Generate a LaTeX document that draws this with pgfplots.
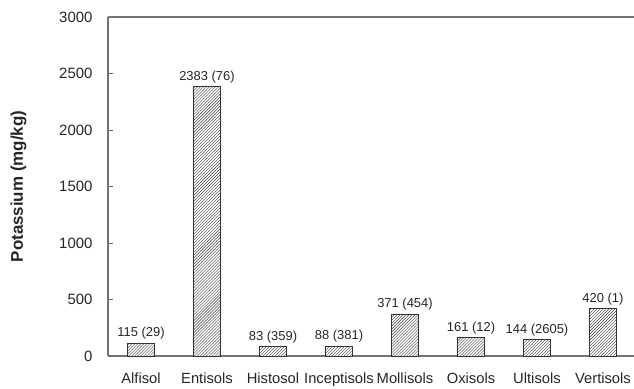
\documentclass[border=0pt]{standalone}
\usepackage{fontspec}
\setmainfont{Liberation Sans}
\usepackage{pgfplots}
\usepackage{pgfplotstable}
\pgfplotsset{compat=1.18}
\usetikzlibrary{patterns}
\pgfplotstableread[col sep=comma]{
x,y,lab
0,115,115 (29)
1,2383,2383 (76)
2,83,83 (359)
3,88,88 (381)
4,371,371 (454)
5,161,161 (12)
6,144,144 (2605)
7,420,420 (1)
}\data
\begin{document}
\begin{tikzpicture}
\useasboundingbox (-108bp,-33bp) rectangle (526bp,356bp);
\begin{axis}[
  at={(0,0)}, anchor=south west,
  scale only axis, width=526bp, height=339bp,
  xmin=-0.5, xmax=7.47, ymin=0, ymax=3000,
  axis x line*=box, axis y line*=left,
  axis line style={black!55, line width=1.1pt},
  xtick={0,...,7},
  xticklabels={Alfisol,Entisols,Histosol,Inceptisols,Mollisols,Oxisols,Ultisols,Vertisols},
  major x tick style={draw=none},
  ytick={0,500,...,3000},
  tick align=inside, major tick length=5bp,
  y tick style={black!60, line width=0.6pt},
  /pgf/number format/assume math mode=true,
  /pgf/number format/1000 sep={},
  tick label style={font=\fontsize{15}{18}\selectfont, text=black!85},
  yticklabel style={xshift=-12bp},
  xticklabel style={yshift=-13bp, font=\fontsize{14.8}{18}\selectfont},
  ylabel={Potassium (mg/kg)},
  ylabel style={font=\fontsize{17}{20}\selectfont\bfseries, text=black!85, at={(axis description cs:-0.170,0.5)}, anchor=center},
  clip=false,
]
\addplot[ybar, bar width=0.4, draw=black!80, line width=0.7pt, fill=white,
  postaction={pattern=north east lines, pattern color=black!75},
  nodes near coords, point meta=explicit symbolic,
  every node near coord/.style={font=\fontsize{13}{15}\selectfont, text=black!85}]
  table[x=x, y=y, meta=lab] {\data};
\end{axis}
\end{tikzpicture}
\end{document}
